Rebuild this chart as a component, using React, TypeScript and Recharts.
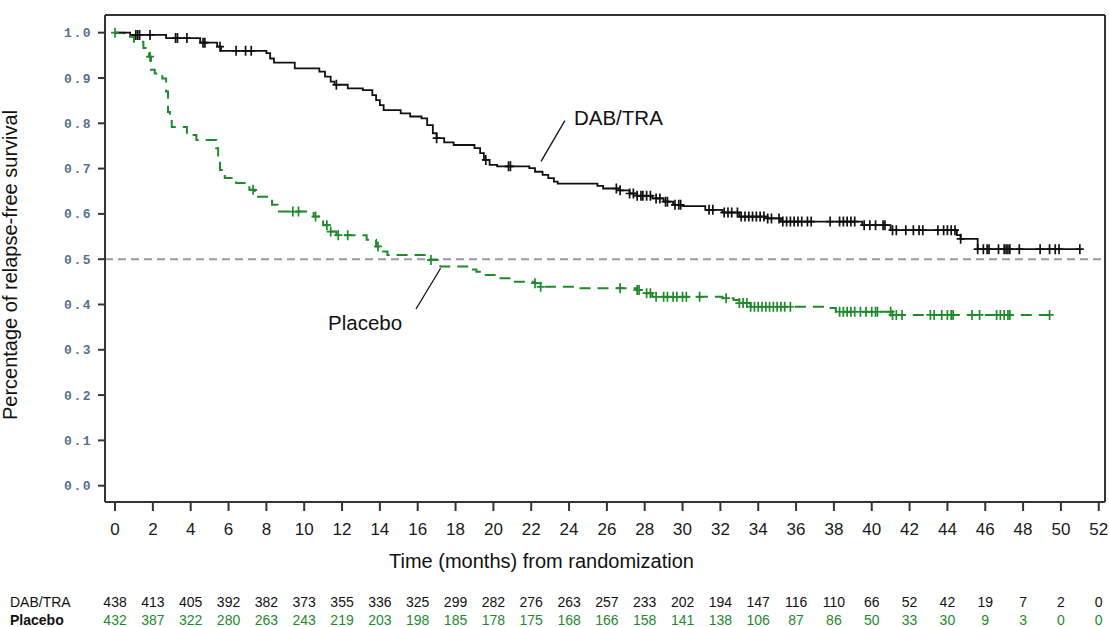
import {
  ComposedChart,
  Line,
  Scatter,
  XAxis,
  YAxis,
  ReferenceLine,
  ReferenceDot,
} from "recharts"

const monthTicks = [0, 2, 4, 6, 8, 10, 12, 14, 16, 18, 20, 22, 24, 26, 28, 30, 32, 34, 36, 38, 40, 42, 44, 46, 48, 50, 52]
const survivalTicks = [0, 0.1, 0.2, 0.3, 0.4, 0.5, 0.6, 0.7, 0.8, 0.9, 1.0]

// DAB/TRA arm: step times (months) and survival after each step
const dabTimes = [0, 0.8, 2.7, 4.5, 5.4, 5.6, 8.0, 8.2, 8.4, 9.5, 10.8, 11.1, 11.4, 11.6, 12.3, 13.1, 13.6, 13.8, 14.0, 14.2, 15.1, 15.6, 16.2, 16.5, 16.8, 17.0, 17.4, 17.9, 19.0, 19.3, 19.5, 19.8, 20.2, 21.9, 22.2, 22.6, 22.9, 23.2, 23.4, 25.5, 25.8, 26.7, 27.2, 27.6, 28.4, 29.0, 29.5, 30.0, 31.2, 32.1, 33.0, 34.5, 35.2, 39.5, 41.0, 44.5, 44.7, 45.6, 51.0]
const dabSurvival = [1.0, 0.995, 0.988, 0.978, 0.969, 0.96, 0.955, 0.943, 0.934, 0.921, 0.914, 0.903, 0.892, 0.885, 0.877, 0.873, 0.862, 0.851, 0.84, 0.829, 0.822, 0.815, 0.811, 0.796, 0.778, 0.767, 0.758, 0.752, 0.745, 0.734, 0.719, 0.708, 0.705, 0.701, 0.693, 0.686, 0.679, 0.671, 0.667, 0.662, 0.656, 0.652, 0.645, 0.64, 0.634, 0.627, 0.62, 0.617, 0.609, 0.603, 0.594, 0.59, 0.583, 0.575, 0.564, 0.553, 0.545, 0.522, 0.522]
const dabCensored = [1.1, 1.2, 1.3, 1.85, 3.2, 3.3, 3.8, 4.65, 4.75, 5.55, 6.4, 6.9, 7.2, 11.7, 17.0, 19.6, 20.8, 20.9, 26.5, 26.7, 27.2, 27.4, 27.6, 27.8, 27.9, 28.1, 28.3, 28.6, 28.8, 29.1, 29.2, 29.6, 29.8, 29.9, 31.4, 31.6, 32.2, 32.4, 32.6, 32.9, 33.1, 33.3, 33.5, 33.7, 33.9, 34.1, 34.3, 34.5, 34.7, 35.1, 35.3, 35.5, 35.7, 35.9, 36.1, 36.3, 36.6, 36.8, 37.8, 38.3, 38.5, 38.7, 38.9, 39.1, 39.6, 39.9, 40.2, 40.6, 40.7, 41.1, 41.3, 41.8, 42.2, 42.5, 42.7, 43.5, 43.8, 44.0, 44.2, 44.4, 44.7, 45.6, 45.9, 46.1, 46.2, 46.7, 47.0, 47.1, 47.2, 47.3, 47.8, 48.9, 49.4, 49.7, 49.9, 51.0]

// Placebo arm
const placeboTimes = [0, 0.5, 1.0, 1.5, 1.8, 1.9, 2.1, 2.5, 2.7, 2.8, 2.9, 3.0, 3.8, 4.3, 5.35, 5.45, 5.55, 5.8, 6.4, 7.1, 7.4, 8.3, 8.6, 10.5, 11.0, 11.3, 11.7, 13.3, 13.8, 14.0, 14.4, 16.6, 17.2, 18.8, 19.1, 19.6, 20.2, 21.0, 22.2, 22.5, 24.5, 27.6, 28.1, 28.4, 32.1, 32.7, 33.0, 33.6, 37.6, 38.1, 41.1, 49.4]
const placeboSurvival = [1.0, 0.991, 0.98, 0.966, 0.947, 0.918, 0.91, 0.899, 0.87, 0.825, 0.805, 0.792, 0.774, 0.763, 0.745, 0.719, 0.697, 0.679, 0.668, 0.653, 0.638, 0.62, 0.605, 0.594, 0.575, 0.561, 0.553, 0.543, 0.528, 0.517, 0.509, 0.498, 0.484, 0.477, 0.472, 0.465, 0.458, 0.45, 0.447, 0.439, 0.436, 0.432, 0.425, 0.417, 0.414, 0.41, 0.403, 0.395, 0.392, 0.384, 0.377, 0.377]
const placeboCensored = [0, 1.85, 7.3, 9.4, 9.7, 10.6, 11.2, 11.4, 11.8, 12.3, 13.9, 16.7, 22.2, 22.5, 26.7, 27.6, 27.7, 28.1, 28.3, 28.6, 29.0, 29.2, 29.5, 29.7, 30.0, 30.2, 30.9, 32.3, 33.0, 33.2, 33.4, 33.6, 33.8, 34.0, 34.2, 34.4, 34.6, 34.8, 35.0, 35.2, 35.4, 35.7, 38.3, 38.5, 38.7, 38.9, 39.1, 39.4, 39.7, 40.0, 40.2, 40.3, 41.0, 41.1, 41.3, 41.6, 43.1, 43.3, 43.7, 44.0, 44.2, 44.3, 45.3, 45.7, 46.6, 46.8, 47.0, 47.2, 47.3, 49.4]

// numbers at risk, one per month tick
const dabAtRisk = [438, 413, 405, 392, 382, 373, 355, 336, 325, 299, 282, 276, 263, 257, 233, 202, 194, 147, 116, 110, 66, 52, 42, 19, 7, 2, 0]
const placeboAtRisk = [432, 387, 322, 280, 263, 243, 219, 203, 198, 185, 178, 175, 168, 166, 158, 141, 138, 106, 87, 86, 50, 33, 30, 9, 3, 0, 0]

const DAB_COLOR = "#111111"
const PBO_COLOR = "#1e8a2c"
const AXIS_COLOR = "#333333"
const SANS = "'Liberation Sans', Arial, sans-serif"

const toSteps = (times: number[], surv: number[]) => times.map((t, i) => ({ t, s: surv[i] }))

const survivalAt = (times: number[], surv: number[], t: number) => {
  let s = surv[0]
  for (let i = 0; i < times.length; i++) {
    if (times[i] <= t) s = surv[i]
  }
  return s
}

const toMarks = (cens: number[], times: number[], surv: number[]) =>
  cens.map((t) => ({ t, s: survivalAt(times, surv, t) }))

const dabSteps = toSteps(dabTimes, dabSurvival)
const placeboSteps = toSteps(placeboTimes, placeboSurvival)
const dabMarks = toMarks(dabCensored, dabTimes, dabSurvival)
const placeboMarks = toMarks(placeboCensored, placeboTimes, placeboSurvival)

const plusShape = (color: string) => (props: any) => {
  const { cx, cy } = props
  return (
    <path
      d={`M${cx - 4},${cy}H${cx + 4}M${cx},${cy - 5}V${cy + 5}`}
      stroke={color}
      strokeWidth={1.7}
      fill="none"
    />
  )
}

const textShape = (text: string) => (props: any) => (
  <text x={props.cx} y={props.cy} fontFamily={SANS} fontSize={20.5} fill="#111">
    {text}
  </text>
)

function PlainText({ px, py, text, size = 20, weight = "normal", rotate = false }: any) {
  return (
    <text
      x={px}
      y={py}
      fontFamily={SANS}
      fontSize={size}
      fontWeight={weight}
      fill="#111"
      textAnchor={rotate ? "middle" : "start"}
      transform={rotate ? `rotate(-90, ${px}, ${py})` : undefined}
    >
      {text}
    </text>
  )
}

const xDomain = [-0.53, 52.33]

export default function App() {
  return (
    <div style={{ position: "absolute", left: 0, top: 0, width: 1109, height: 627, background: "#fff" }}>
      <ComposedChart width={1109} height={627} margin={{ top: 14, right: 3, left: 0, bottom: 2 }}>
        <XAxis
          dataKey="t"
          type="number"
          domain={xDomain}
          allowDataOverflow
          ticks={monthTicks}
          interval={0}
          height={90}
          stroke={AXIS_COLOR}
          strokeWidth={2}
          tickSize={9}
          tickMargin={12}
          tick={{ fontFamily: SANS, fontSize: 17, fill: "#1a1a1a" }}
          label={<PlainText px={389} py={568} text="Time (months) from randomization" />}
        />
        <XAxis
          xAxisId="riskA"
          dataKey="t"
          type="number"
          domain={xDomain}
          allowDataOverflow
          ticks={monthTicks}
          interval={0}
          height={14}
          axisLine={false}
          tickLine={false}
          tickSize={0}
          tickMargin={5}
          tick={{ fontFamily: SANS, fontSize: 14, fill: DAB_COLOR }}
          tickFormatter={(v: number) => String(dabAtRisk[monthTicks.indexOf(v)])}
          label={<PlainText px={10} py={607} text="DAB/TRA" size={14} />}
        />
        <XAxis
          xAxisId="riskB"
          dataKey="t"
          type="number"
          domain={xDomain}
          allowDataOverflow
          ticks={monthTicks}
          interval={0}
          height={19}
          axisLine={false}
          tickLine={false}
          tickSize={0}
          tickMargin={9}
          tick={{ fontFamily: SANS, fontSize: 14, fill: PBO_COLOR }}
          tickFormatter={(v: number) => String(placeboAtRisk[monthTicks.indexOf(v)])}
          label={<PlainText px={10} py={625} text="Placebo" size={14} weight="bold" />}
        />
        <XAxis
          xAxisId="top"
          orientation="top"
          type="number"
          domain={xDomain}
          height={1}
          tick={false}
          tickLine={false}
          stroke={AXIS_COLOR}
          strokeWidth={2}
        />
        <YAxis
          type="number"
          domain={[-0.036, 1.039]}
          allowDataOverflow
          ticks={survivalTicks}
          interval={0}
          width={105}
          stroke={AXIS_COLOR}
          strokeWidth={2}
          tickSize={7}
          tickMargin={6}
          tickFormatter={(v: number) => v.toFixed(1)}
          tick={{ fontFamily: "'Liberation Mono', monospace", fontSize: 13, fontWeight: "bold", fill: "#57708e", letterSpacing: 1.5 }}
          label={<PlainText px={17} py={265} text="Percentage of relapse-free survival" rotate />}
        />
        <YAxis
          yAxisId="right"
          orientation="right"
          type="number"
          domain={[-0.036, 1.039]}
          width={1}
          tick={false}
          tickLine={false}
          stroke={AXIS_COLOR}
          strokeWidth={2}
        />

        <ReferenceLine y={0.5} stroke="#9a9a9a" strokeWidth={2} strokeDasharray="8 5" />

        <Line
          data={placeboSteps}
          dataKey="s"
          type="stepAfter"
          stroke={PBO_COLOR}
          strokeWidth={2}
          strokeDasharray="11 7"
          dot={false}
          activeDot={false}
          isAnimationActive={false}
        />
        <Line
          data={dabSteps}
          dataKey="s"
          type="stepAfter"
          stroke={DAB_COLOR}
          strokeWidth={1.8}
          dot={false}
          activeDot={false}
          isAnimationActive={false}
        />
        <Scatter data={placeboMarks} dataKey="s" shape={plusShape(PBO_COLOR)} isAnimationActive={false} />
        <Scatter data={dabMarks} dataKey="s" shape={plusShape(DAB_COLOR)} isAnimationActive={false} />

        <ReferenceLine
          segment={[{ x: 23.78, y: 0.806 }, { x: 22.52, y: 0.716 }]}
          stroke="#111"
          strokeWidth={1.3}
        />
        <ReferenceLine
          segment={[{ x: 17.21, y: 0.48 }, { x: 15.91, y: 0.39 }]}
          stroke="#111"
          strokeWidth={1.3}
        />
        <ReferenceDot x={24.26} y={0.796} r={0} shape={textShape("DAB/TRA")} />
        <ReferenceDot x={11.26} y={0.344} r={0} shape={textShape("Placebo")} />
      </ComposedChart>
    </div>
  )
}
